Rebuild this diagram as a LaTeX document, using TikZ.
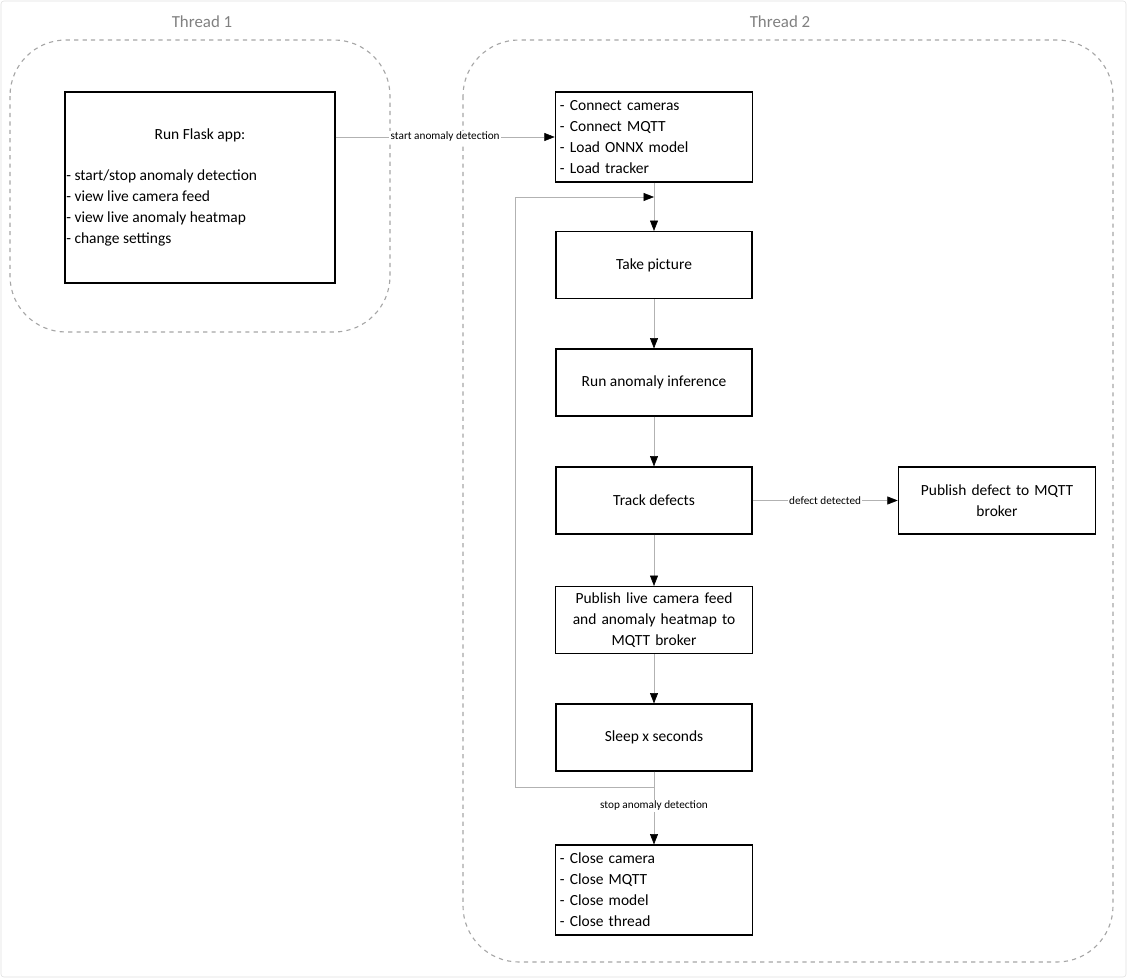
\documentclass[tikz,border=0pt]{standalone}
\usepackage{fontspec}
\setmainfont{Carlito}
\usetikzlibrary{arrows.meta}
\tikzset{
  box/.style={draw, thick, minimum width=4.9cm, minimum height=1.675cm, align=center, font=\fontsize{11}{15}\selectfont},
  listbox/.style={box, align=left},
  thread/.style={draw=gray!70, dashed, rounded corners=1.4cm, thick},
  title/.style={text=gray, font=\fontsize{12}{14}\selectfont},
  flow/.style={draw=gray!60, -{Triangle[length=2.6mm,width=2mm,black]}},
  lbl/.style={fill=white, inner sep=1pt, font=\fontsize{8}{10}\selectfont}
}
\begin{document}
\begin{tikzpicture}[x=0.025cm, y=-0.025cm]
  \useasboundingbox (0,0) rectangle (1127,978);
  \draw[gray!25, rounded corners=2pt] (1,1) rectangle (1126,977);

  % threads
  \draw[thread] (10,40) rectangle (390,332);
  \draw[thread] (463,40) rectangle (1113,962);
  \node[title] (t1) at (202,22) {Thread 1};
  \node[title] (t2) at (780,22) {Thread 2};

  % thread 1
  \node[draw, thick, minimum width=6.75cm, minimum height=4.775cm] (flask) at (200,187.5) {};
  \node[font=\fontsize{11}{15}\selectfont] (flasktitle) at (200,135) {Run Flask app:};
  \node[align=left, anchor=north west, inner sep=0pt, font=\fontsize{11}{15}\selectfont] (flasklist) at (66,169)
    {- start/stop anomaly detection\\- view live camera feed\\- view live anomaly heatmap\\- change settings};

  % thread 2
  \node[listbox, minimum height=2.25cm, text width=4.7cm] (setup) at (654,137) {- Connect cameras\\- Connect MQTT\\- Load ONNX model\\- Load tracker};
  \node[box] (pic) at (654,265) {Take picture};
  \node[box] (infer) at (654,382.5) {Run anomaly inference};
  \node[box] (track) at (654,500.5) {Track defects};
  \node[box, text width=4.7cm] (pubdef) at (997,500.5) {Publish defect to MQTT\\broker};
  \node[box, text width=4.7cm] (publive) at (654,620) {Publish live camera feed\\and anomaly heatmap to\\MQTT broker};
  \node[box] (sleep) at (654,737.5) {Sleep x seconds};
  \node[listbox, minimum height=2.25cm, text width=4.7cm] (close) at (654,890) {- Close camera\\- Close MQTT\\- Close model\\- Close thread};
  \coordinate (loop) at (654,197);

  % connectors
  \draw[flow] (flask.east |- setup) -- node[lbl] {start anomaly detection} (setup.west);
  \draw[flow] (setup) -- (pic);
  \draw[flow] (pic) -- (infer);
  \draw[flow] (infer) -- (track);
  \draw[flow] (track) -- node[lbl] {defect detected} (pubdef);
  \draw[flow] (track) -- (publive);
  \draw[flow] (publive) -- (sleep);
  \draw[flow] (sleep) -- node[lbl, pos=0.47] {stop anomaly detection} (close);
  \draw[flow] (sleep.south) -- ++(0,16) -| (515,197) -- (loop);
\end{tikzpicture}
\end{document}
